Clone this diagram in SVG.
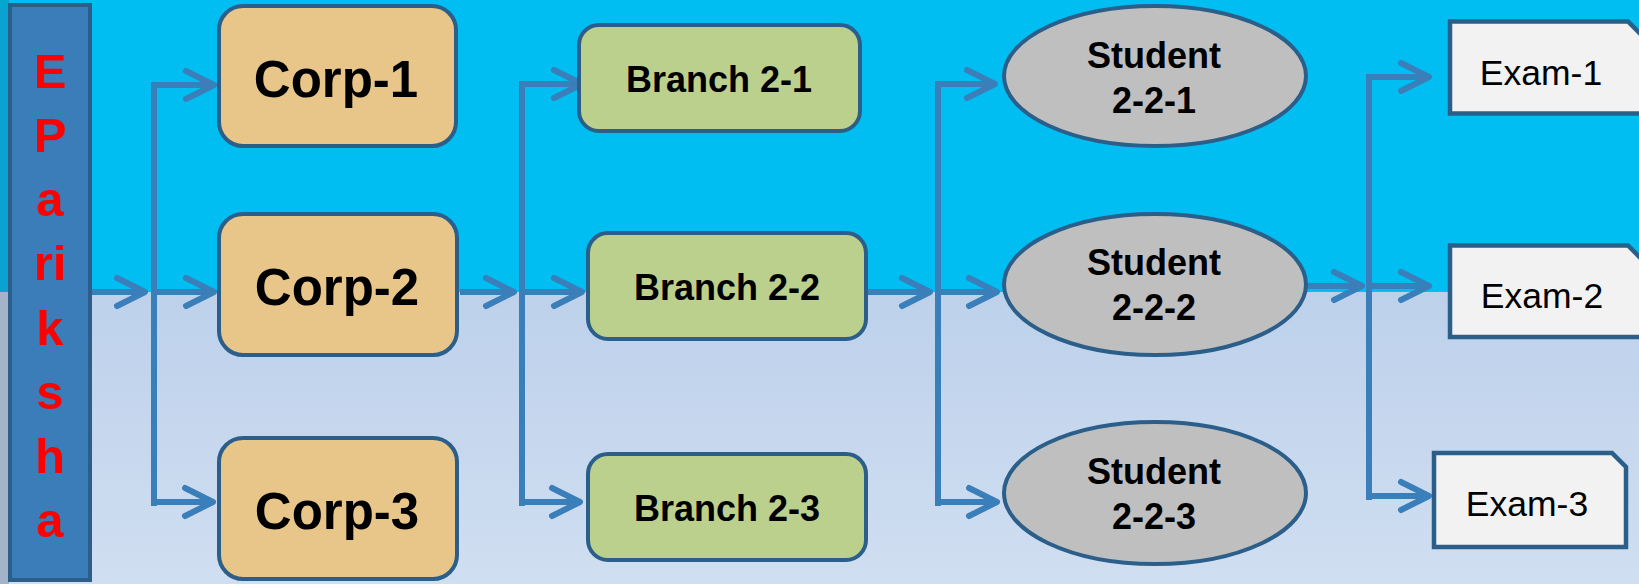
<svg xmlns="http://www.w3.org/2000/svg" width="1639" height="584" viewBox="0 0 1639 584">
<style>
.t{font-family:"Liberation Sans",Arial,sans-serif;text-anchor:middle;fill:#000}
.b{font-weight:bold}
.corp rect{fill:#E8C68A;stroke:#2B5F8A;stroke-width:4}
.branch rect{fill:#BCD08E;stroke:#2B5F8A;stroke-width:4}
.student ellipse{fill:#BFBFBF;stroke:#2B5F8A;stroke-width:4}
.exam path{fill:#F2F2F2;stroke:#2B5F8A;stroke-width:4.5;stroke-linejoin:miter}
#connectors path{fill:none;stroke:#3A7EBA;stroke-width:6;marker-end:url(#arr)}
#connectors path.v{marker-end:none}
.ep{font-family:"Liberation Sans",Arial,sans-serif;font-weight:bold;font-size:49px;fill:#FF0000;text-anchor:middle}
</style>
<defs>
<linearGradient id="bg" x1="0" y1="0" x2="0" y2="1">
<stop offset="0" stop-color="#BDD1EB"/>
<stop offset="1" stop-color="#D0DEF1"/>
</linearGradient>
<marker id="arr" markerUnits="userSpaceOnUse" markerWidth="44" markerHeight="44" viewBox="-36 -22 44 44" refX="0" refY="0" orient="auto" overflow="visible">
<path d="M-28,-14 L0,0 L-28,14" fill="none" stroke="#3A7EBA" stroke-width="6" stroke-linecap="round" stroke-linejoin="round"/>
</marker>
</defs>
<g id="background">
<rect x="0" y="0" width="1639" height="292" fill="#00BEF2"/>
<rect x="0" y="292" width="1639" height="292" fill="url(#bg)"/>
<rect x="0" y="0" width="9" height="292" fill="#0AA2CE"/>
<rect x="0" y="292" width="9" height="292" fill="#A4B3C9"/>
</g>
<g id="eparikhsa">
<rect x="10" y="5" width="80" height="575" fill="#3A7DB8" stroke="#2B5F8A" stroke-width="4"/>
<text class="ep" x="50" y="88">E</text>
<text class="ep" x="50" y="152">P</text>
<text class="ep" x="50" y="216">a</text>
<text class="ep" x="50" y="280">ri</text>
<text class="ep" x="50" y="345">k</text>
<text class="ep" x="50" y="409">s</text>
<text class="ep" x="50" y="473">h</text>
<text class="ep" x="50" y="537">a</text>
</g>
<g id="connectors">
<path d="M92,292 H145"/>
<path class="v" d="M154,82 V506"/>
<path d="M151,85 H214"/>
<path d="M157,292 H214"/>
<path d="M151,502 H213"/>
<path d="M460,292 H514"/>
<path class="v" d="M522,81 V506"/>
<path d="M519,84 H582"/>
<path d="M525,292 H582"/>
<path d="M519,502 H580"/>
<path d="M868,292 H930"/>
<path class="v" d="M938,81 V506"/>
<path d="M935,84 H995"/>
<path d="M941,292 H997"/>
<path d="M935,502 H997"/>
<path d="M1307,286 H1362"/>
<path class="v" d="M1369,74 V500"/>
<path d="M1366,77 H1429"/>
<path d="M1372,286 H1429"/>
<path d="M1366,496 H1429"/>
</g>
<g id="corp-1" class="corp">
<rect x="219" y="6" width="237" height="140" rx="24"/>
<text class="t b" x="336" y="97" font-size="51">Corp-1</text>
</g>
<g id="corp-2" class="corp">
<rect x="219" y="214" width="238" height="141" rx="24"/>
<text class="t b" x="337" y="305" font-size="51">Corp-2</text>
</g>
<g id="corp-3" class="corp">
<rect x="219" y="438" width="238" height="141" rx="24"/>
<text class="t b" x="337" y="529" font-size="51">Corp-3</text>
</g>
<g id="branch-2-1" class="branch">
<rect x="579" y="25" width="281" height="106" rx="20"/>
<text class="t b" x="719" y="92" font-size="36">Branch 2-1</text>
</g>
<g id="branch-2-2" class="branch">
<rect x="588" y="233" width="278" height="106" rx="20"/>
<text class="t b" x="727" y="300" font-size="36">Branch 2-2</text>
</g>
<g id="branch-2-3" class="branch">
<rect x="588" y="454" width="278" height="106" rx="20"/>
<text class="t b" x="727" y="521" font-size="36">Branch 2-3</text>
</g>
<g id="student-2-2-1" class="student">
<ellipse cx="1155" cy="76" rx="151" ry="70"/>
<text class="t b" x="1154" y="68" font-size="36">Student</text>
<text class="t b" x="1154" y="113" font-size="36">2-2-1</text>
</g>
<g id="student-2-2-2" class="student">
<ellipse cx="1155" cy="284.5" rx="151" ry="70.5"/>
<text class="t b" x="1154" y="275" font-size="36">Student</text>
<text class="t b" x="1154" y="320" font-size="36">2-2-2</text>
</g>
<g id="student-2-2-3" class="student">
<ellipse cx="1155" cy="493" rx="151" ry="71"/>
<text class="t b" x="1154" y="484" font-size="36">Student</text>
<text class="t b" x="1154" y="529" font-size="36">2-2-3</text>
</g>
<g id="exam-1" class="exam">
<path d="M1450,21.5 H1628 L1643,36.5 V113.5 H1450 Z"/>
<text class="t" x="1541" y="85" font-size="35.5">Exam-1</text>
</g>
<g id="exam-2" class="exam">
<path d="M1450,245.5 H1628 L1643,260.5 V337 H1450 Z"/>
<text class="t" x="1542" y="308" font-size="35.5">Exam-2</text>
</g>
<g id="exam-3" class="exam">
<path d="M1434,453 H1612 L1626,467 V547 H1434 Z"/>
<text class="t" x="1527" y="516" font-size="35.5">Exam-3</text>
</g>
</svg>
